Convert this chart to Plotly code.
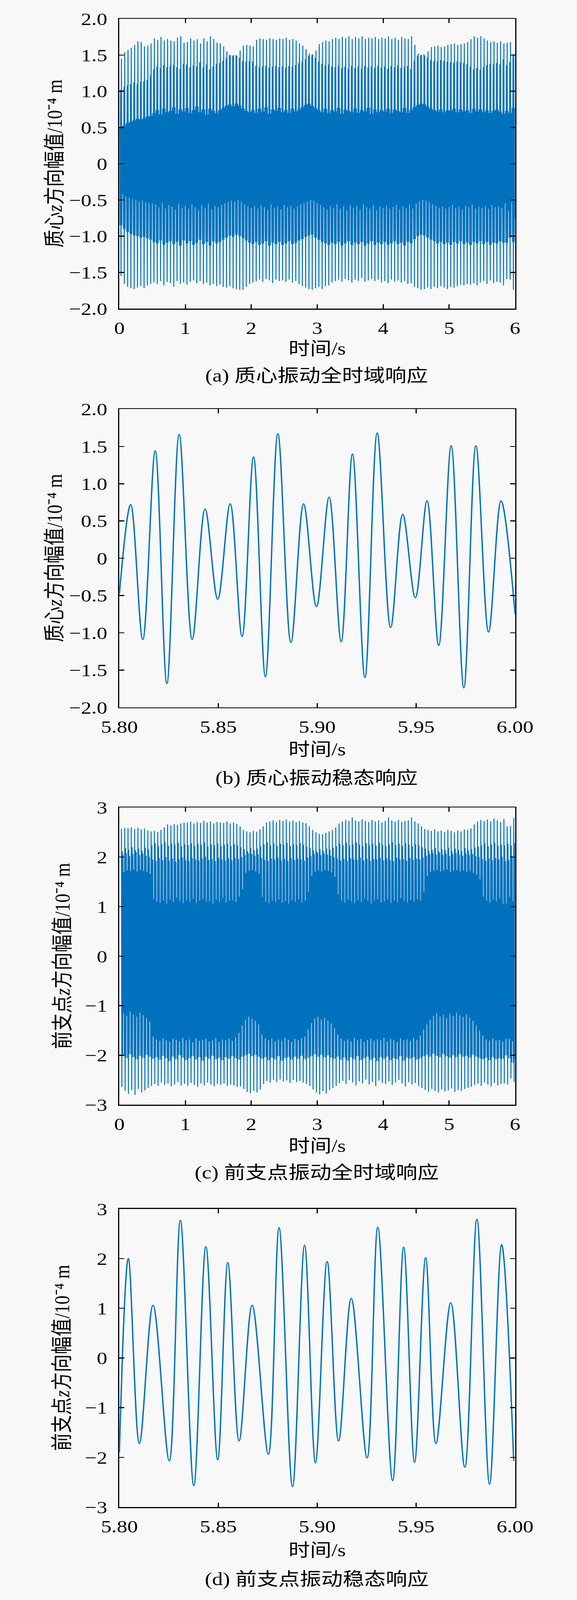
import numpy as np
import plotly.graph_objects as go

# ---------------- data ----------------
# Panel (a): per 0.05 s beat, the eight extrema of the 80 Hz response
a_hi = [1.45,1.54,1.57,1.60,1.64,1.69,1.68,1.62,1.63,1.66,
        1.73,1.71,1.75,1.70,1.72,1.70,1.69,1.74,1.76,1.67,
        1.68,1.73,1.70,1.72,1.66,1.73,1.69,1.76,1.72,1.67,
        1.66,1.62,1.55,1.50,1.50,1.49,1.56,1.63,1.64,1.63,
        1.62,1.71,1.73,1.72,1.71,1.73,1.72,1.71,1.73,1.72,
        1.74,1.71,1.72,1.70,1.66,1.63,1.58,1.52,1.51,1.56,
        1.65,1.68,1.70,1.69,1.72,1.74,1.72,1.75,1.73,1.76,
        1.72,1.75,1.73,1.76,1.72,1.74,1.73,1.75,1.72,1.74,
        1.73,1.76,1.72,1.74,1.71,1.75,1.73,1.72,1.76,1.64,
        1.52,1.50,1.49,1.55,1.61,1.62,1.63,1.61,1.62,1.64,
        1.65,1.66,1.64,1.65,1.66,1.68,1.72,1.76,1.74,1.76,
        1.73,1.70,1.68,1.69,1.67,1.69,1.66,1.67,1.68,1.51]
a_mid = [1.02,1.06,1.08,1.10,1.12,1.10,1.13,1.14,1.16,1.22,
         1.30,1.34,1.32,1.36,1.33,1.35,1.36,1.33,1.31,1.38,
         1.37,1.33,1.36,1.34,1.40,1.33,1.37,1.30,1.34,1.38,
         1.39,1.42,1.46,1.50,1.49,1.50,1.46,1.42,1.41,1.42,
         1.41,1.35,1.33,1.34,1.35,1.33,1.34,1.35,1.33,1.34,
         1.32,1.35,1.34,1.36,1.39,1.41,1.44,1.49,1.50,1.46,
         1.41,1.38,1.36,1.37,1.34,1.33,1.35,1.32,1.34,1.31,
         1.35,1.32,1.34,1.31,1.35,1.33,1.34,1.32,1.35,1.33,
         1.34,1.31,1.35,1.33,1.36,1.32,1.34,1.35,1.31,1.42,
         1.49,1.50,1.51,1.47,1.43,1.42,1.41,1.43,1.42,1.41,
         1.40,1.39,1.41,1.40,1.39,1.37,1.34,1.30,1.32,1.30,
         1.33,1.36,1.38,1.37,1.39,1.37,1.44,1.36,1.40,1.51]
a_lo = [-1.55,-1.66,-1.70,-1.72,-1.73,-1.71,-1.69,-1.72,-1.68,-1.66,
        -1.64,-1.66,-1.62,-1.68,-1.63,-1.65,-1.70,-1.62,-1.66,-1.64,
        -1.67,-1.63,-1.61,-1.65,-1.62,-1.66,-1.64,-1.68,-1.66,-1.69,
        -1.67,-1.70,-1.71,-1.69,-1.72,-1.73,-1.74,-1.74,-1.70,-1.66,
        -1.64,-1.62,-1.60,-1.63,-1.59,-1.61,-1.65,-1.60,-1.62,-1.61,
        -1.63,-1.60,-1.64,-1.62,-1.66,-1.69,-1.71,-1.73,-1.74,-1.72,
        -1.70,-1.73,-1.69,-1.68,-1.64,-1.62,-1.60,-1.63,-1.59,-1.61,
        -1.64,-1.60,-1.62,-1.58,-1.63,-1.61,-1.59,-1.62,-1.60,-1.64,
        -1.62,-1.65,-1.60,-1.63,-1.61,-1.64,-1.62,-1.66,-1.65,-1.70,
        -1.72,-1.74,-1.73,-1.71,-1.73,-1.70,-1.72,-1.69,-1.71,-1.73,
        -1.70,-1.71,-1.69,-1.67,-1.68,-1.66,-1.67,-1.65,-1.68,-1.64,
        -1.62,-1.66,-1.61,-1.65,-1.63,-1.64,-1.68,-1.59,-1.60,-1.74]
a_n = [-0.85,-0.90,-0.94,-0.97,-0.99,-1.00,-1.02,-1.01,-1.03,-1.05,
       -1.08,-1.10,-1.06,-1.12,-1.09,-1.07,-1.11,-1.08,-1.13,-1.06,
       -1.10,-1.07,-1.12,-1.09,-1.05,-1.11,-1.08,-1.13,-1.07,-1.10,
       -1.08,-1.05,-1.02,-0.99,-1.01,-0.98,-1.00,-1.03,-1.06,-1.09,
       -1.11,-1.08,-1.12,-1.10,-1.07,-1.13,-1.09,-1.11,-1.08,-1.12,
       -1.10,-1.07,-1.11,-1.09,-1.06,-1.04,-1.01,-0.99,-0.98,-1.02,
       -1.05,-1.08,-1.10,-1.12,-1.09,-1.11,-1.08,-1.13,-1.10,-1.07,
       -1.12,-1.09,-1.11,-1.08,-1.13,-1.10,-1.07,-1.12,-1.09,-1.11,
       -1.08,-1.12,-1.10,-1.07,-1.11,-1.09,-1.13,-1.08,-1.10,-1.04,
       -1.00,-0.98,-0.99,-1.02,-1.05,-1.07,-1.10,-1.08,-1.11,-1.09,
       -1.12,-1.08,-1.10,-1.07,-1.11,-1.09,-1.12,-1.08,-1.10,-1.07,
       -1.11,-1.08,-1.12,-1.09,-1.10,-1.07,-1.09,-1.09,-1.02,-1.08]
a_p = [0.50,0.53,0.56,0.58,0.60,0.62,0.61,0.63,0.65,0.66,
       0.70,0.74,0.68,0.76,0.71,0.73,0.78,0.69,0.75,0.72,
       0.77,0.70,0.74,0.79,0.71,0.75,0.68,0.76,0.73,0.70,
       0.74,0.77,0.80,0.82,0.79,0.83,0.80,0.76,0.73,0.71,
       0.74,0.70,0.76,0.72,0.78,0.69,0.75,0.73,0.77,0.71,
       0.74,0.70,0.76,0.72,0.75,0.78,0.81,0.83,0.80,0.77,
       0.74,0.71,0.76,0.70,0.74,0.72,0.77,0.69,0.75,0.73,
       0.71,0.76,0.70,0.74,0.72,0.77,0.69,0.75,0.71,0.74,
       0.72,0.76,0.70,0.75,0.73,0.71,0.77,0.70,0.74,0.78,
       0.81,0.83,0.82,0.79,0.76,0.74,0.72,0.75,0.71,0.74,
       0.73,0.76,0.71,0.75,0.72,0.74,0.70,0.76,0.72,0.75,
       0.71,0.74,0.70,0.73,0.75,0.72,0.69,0.73,0.70,0.77]
a_s = [-0.42,-0.45,-0.47,-0.49,-0.50,-0.52,-0.51,-0.53,-0.54,-0.55,
       -0.56,-0.60,-0.54,-0.62,-0.57,-0.59,-0.63,-0.55,-0.61,-0.58,
       -0.62,-0.56,-0.60,-0.64,-0.57,-0.61,-0.55,-0.63,-0.58,-0.60,
       -0.57,-0.55,-0.53,-0.51,-0.52,-0.50,-0.53,-0.56,-0.59,-0.61,
       -0.58,-0.62,-0.57,-0.60,-0.64,-0.56,-0.61,-0.59,-0.63,-0.57,
       -0.60,-0.58,-0.62,-0.59,-0.56,-0.54,-0.52,-0.50,-0.51,-0.54,
       -0.57,-0.60,-0.63,-0.58,-0.61,-0.56,-0.62,-0.59,-0.64,-0.57,
       -0.61,-0.58,-0.63,-0.56,-0.60,-0.62,-0.57,-0.64,-0.59,-0.61,
       -0.58,-0.62,-0.60,-0.57,-0.63,-0.59,-0.61,-0.56,-0.62,-0.55,
       -0.52,-0.50,-0.51,-0.53,-0.56,-0.58,-0.61,-0.59,-0.62,-0.60,
       -0.57,-0.61,-0.59,-0.63,-0.58,-0.60,-0.56,-0.62,-0.59,-0.61,
       -0.58,-0.62,-0.57,-0.60,-0.59,-0.61,-0.55,-0.65,-0.53,-0.75]
a_t0, a_dt = 0.0057, 0.00625   # time of first extremum, spacing of extrema (s)

# Panel (b): extrema of the steady-state window 5.80-6.00 s
b_time = [5.8000,5.8057,5.8118,5.8181,5.8240,5.8302,5.8368,5.8433,5.8497,5.8560,
          5.8620,5.8678,5.8738,5.8801,5.8867,5.8931,5.8996,5.9060,5.9121,5.9178,
          5.9241,5.9303,5.9371,5.9432,5.9496,5.9555,5.9614,5.9677,5.9741,5.9802,
          5.9866,5.9929,6.0000]
b_value = [-0.48,0.72,-1.09,1.44,-1.68,1.66,-1.09,0.66,-0.55,0.73,
           -1.05,1.36,-1.59,1.67,-1.13,0.73,-0.65,0.82,-1.12,1.40,
           -1.60,1.68,-0.93,0.59,-0.53,0.77,-1.17,1.51,-1.74,1.51,
           -0.99,0.77,-0.75]

# Panel (c): per 0.05 s beat, the eight extrema
c_hi = [2.57,2.59,2.58,2.60,2.57,2.59,2.56,2.58,2.54,2.52,
        2.53,2.51,2.55,2.60,2.66,2.64,2.67,2.65,2.68,2.70,
        2.70,2.72,2.68,2.71,2.69,2.73,2.70,2.72,2.68,2.71,
        2.70,2.69,2.72,2.68,2.70,2.67,2.62,2.55,2.52,2.50,
        2.53,2.51,2.56,2.62,2.70,2.72,2.74,2.71,2.75,2.73,
        2.76,2.72,2.74,2.71,2.73,2.70,2.68,2.62,2.55,2.50,
        2.47,2.46,2.49,2.52,2.55,2.60,2.68,2.72,2.75,2.73,
        2.80,2.74,2.72,2.76,2.73,2.71,2.75,2.72,2.74,2.70,
        2.73,2.80,2.74,2.72,2.75,2.71,2.73,2.74,2.80,2.72,
        2.68,2.62,2.57,2.55,2.53,2.56,2.52,2.54,2.51,2.55,
        2.53,2.50,2.54,2.52,2.56,2.55,2.58,2.66,2.72,2.75,
        2.73,2.76,2.72,2.78,2.74,2.71,2.77,2.62,2.63,2.79]
c_lo = [-2.64,-2.72,-2.78,-2.70,-2.80,-2.68,-2.75,-2.71,-2.66,-2.62,
        -2.58,-2.62,-2.55,-2.60,-2.57,-2.63,-2.59,-2.54,-2.61,-2.58,
        -2.62,-2.56,-2.60,-2.64,-2.57,-2.61,-2.55,-2.59,-2.63,-2.58,
        -2.60,-2.57,-2.62,-2.59,-2.61,-2.64,-2.63,-2.68,-2.74,-2.77,
        -2.72,-2.75,-2.69,-2.58,-2.52,-2.55,-2.50,-2.54,-2.49,-2.53,
        -2.51,-2.56,-2.50,-2.54,-2.52,-2.55,-2.58,-2.62,-2.69,-2.75,
        -2.79,-2.72,-2.77,-2.70,-2.66,-2.62,-2.56,-2.52,-2.58,-2.50,
        -2.55,-2.61,-2.53,-2.57,-2.49,-2.59,-2.54,-2.62,-2.51,-2.56,
        -2.58,-2.53,-2.60,-2.55,-2.50,-2.57,-2.63,-2.54,-2.59,-2.56,
        -2.62,-2.66,-2.70,-2.74,-2.68,-2.72,-2.75,-2.69,-2.73,-2.71,
        -2.67,-2.74,-2.70,-2.72,-2.68,-2.66,-2.64,-2.60,-2.57,-2.62,
        -2.55,-2.59,-2.63,-2.56,-2.61,-2.58,-2.57,-2.59,-2.47,-2.54]
c_m1 = [2.12,2.18,2.15,2.20,2.14,2.17,2.13,2.19,2.16,2.24,
        2.28,2.22,2.26,2.30,2.23,2.27,2.25,2.29,2.22,2.26,
        2.24,2.28,2.23,2.27,2.25,2.30,2.22,2.26,2.24,2.28,
        2.23,2.25,2.27,2.22,2.26,2.24,2.20,2.16,2.12,2.18,
        2.14,2.17,2.22,2.26,2.30,2.24,2.28,2.23,2.27,2.25,
        2.29,2.22,2.26,2.24,2.28,2.25,2.21,2.18,2.14,2.12,
        2.16,2.13,2.17,2.15,2.19,2.22,2.27,2.24,2.29,2.23,
        2.26,2.30,2.25,2.22,2.28,2.24,2.27,2.23,2.29,2.25,
        2.22,2.26,2.30,2.24,2.27,2.23,2.28,2.25,2.22,2.26,
        2.24,2.20,2.17,2.13,2.15,2.18,2.12,2.16,2.14,2.19,
        2.13,2.17,2.15,2.12,2.18,2.14,2.16,2.19,2.21,2.24,
        2.28,2.22,2.26,2.29,2.23,2.25,2.24,2.27,2.23,2.28]
c_m2 = [2.05,2.08,2.02,2.06,2.10,2.04,2.07,2.03,2.01,1.95,
        1.92,1.98,1.94,2.00,1.93,1.97,1.91,1.96,1.99,1.94,
        1.92,1.98,1.95,1.93,1.97,2.01,1.94,1.96,1.92,1.99,
        1.95,1.93,1.97,1.94,1.98,1.96,2.00,2.04,2.08,2.06,
        2.03,2.05,1.98,1.94,1.92,1.97,1.95,1.99,1.93,1.96,
        1.92,1.98,1.94,1.97,1.95,1.93,1.99,2.02,2.06,2.09,
        2.04,2.07,2.05,2.03,2.00,1.97,1.93,1.96,1.92,1.98,
        1.95,1.94,1.99,1.93,1.97,1.92,1.96,1.95,1.98,1.93,
        1.97,1.94,1.92,1.99,1.95,1.96,1.93,1.98,1.94,1.97,
        1.95,1.99,2.03,2.06,2.08,2.05,2.09,2.04,2.07,2.02,
        2.06,2.08,2.05,2.03,2.07,2.04,2.06,2.02,2.00,1.96,
        1.93,1.97,1.94,1.98,1.95,2.00,1.92,1.94,2.02,1.96]
c_n = [-2.02,-2.06,-1.98,-2.04,-2.08,-2.01,-2.05,-1.99,-2.03,-2.07,
       -2.04,-2.09,-2.01,-2.06,-2.12,-2.03,-2.08,-2.00,-2.05,-2.10,
       -2.06,-2.02,-2.09,-2.04,-2.11,-2.03,-2.07,-2.01,-2.08,-2.05,
       -2.10,-2.04,-2.07,-2.02,-2.06,-2.09,-2.03,-2.00,-1.97,-2.02,
       -1.99,-2.03,-2.07,-2.04,-2.10,-2.05,-2.08,-2.02,-2.11,-2.06,
       -2.04,-2.09,-2.03,-2.07,-2.01,-2.08,-2.05,-2.02,-1.98,-2.03,
       -1.99,-2.04,-2.00,-2.05,-2.07,-2.03,-2.09,-2.05,-2.11,-2.04,
       -2.08,-2.02,-2.10,-2.06,-2.03,-2.09,-2.05,-2.12,-2.04,-2.07,
       -2.03,-2.10,-2.06,-2.08,-2.02,-2.11,-2.05,-2.07,-2.04,-2.09,
       -2.06,-2.02,-1.99,-2.03,-1.97,-2.01,-2.04,-1.98,-2.02,-2.05,
       -2.00,-2.04,-1.98,-2.03,-2.01,-2.05,-1.99,-2.03,-2.06,-2.08,
       -2.05,-2.10,-2.04,-2.08,-2.06,-2.07,-2.00,-2.06,-2.15,-2.07]
c_s = [-1.15,-1.20,-1.12,-1.18,-1.22,-1.14,-1.19,-1.25,-1.32,-1.62,
       -1.68,-1.71,-1.66,-1.70,-1.73,-1.67,-1.69,-1.72,-1.65,-1.70,
       -1.68,-1.74,-1.66,-1.71,-1.69,-1.67,-1.72,-1.70,-1.65,-1.73,
       -1.68,-1.70,-1.66,-1.71,-1.64,-1.55,-1.40,-1.28,-1.22,-1.26,
       -1.30,-1.38,-1.58,-1.66,-1.70,-1.67,-1.72,-1.68,-1.71,-1.65,
       -1.69,-1.73,-1.67,-1.70,-1.66,-1.62,-1.48,-1.35,-1.26,-1.22,
       -1.28,-1.25,-1.30,-1.36,-1.45,-1.58,-1.66,-1.71,-1.68,-1.72,
       -1.65,-1.70,-1.67,-1.73,-1.69,-1.66,-1.71,-1.68,-1.70,-1.65,
       -1.72,-1.67,-1.69,-1.73,-1.66,-1.70,-1.68,-1.71,-1.65,-1.69,
       -1.60,-1.48,-1.38,-1.28,-1.20,-1.15,-1.22,-1.18,-1.25,-1.16,
       -1.21,-1.14,-1.19,-1.23,-1.17,-1.24,-1.30,-1.40,-1.50,-1.60,
       -1.68,-1.71,-1.66,-1.70,-1.69,-1.72,-1.67,-1.67,-1.72,-1.70]
c_sp = [1.70,1.73,1.72,1.75,1.71,1.74,1.72,1.70,1.66,1.15,
        1.10,1.08,1.12,1.06,1.14,1.09,1.18,1.11,1.07,1.13,
        1.10,1.16,1.08,1.12,1.15,1.09,1.11,1.06,1.14,1.10,
        1.17,1.08,1.12,1.13,1.09,1.20,1.35,1.68,1.72,1.74,
        1.71,1.66,1.20,1.10,1.07,1.12,1.09,1.14,1.08,1.11,
        1.06,1.13,1.10,1.15,1.08,1.12,1.30,1.62,1.70,1.73,
        1.71,1.74,1.72,1.69,1.60,1.25,1.12,1.08,1.14,1.10,
        1.07,1.13,1.09,1.16,1.11,1.06,1.12,1.15,1.08,1.10,
        1.14,1.07,1.12,1.09,1.17,1.11,1.08,1.13,1.10,1.15,
        1.12,1.30,1.62,1.70,1.72,1.74,1.71,1.73,1.75,1.70,
        1.72,1.74,1.71,1.73,1.70,1.72,1.68,1.64,1.55,1.20,
        1.12,1.08,1.14,1.10,1.16,1.06,1.06,1.20,1.11,1.10]
c_t0, c_dt = 0.0308, 0.00625

# Panel (d): extrema of the steady-state window 5.80-6.00 s
d_time = [5.8000,5.8045,5.8101,5.8170,5.8252,5.8308,5.8376,5.8437,5.8497,5.8548,
          5.8605,5.8671,5.8753,5.8807,5.8875,5.8936,5.8991,5.9050,5.9108,5.9172,
          5.9252,5.9306,5.9381,5.9437,5.9492,5.9548,5.9600,5.9675,5.9746,5.9807,
          5.9871,5.9932,5.9993]
d_value = [-1.90,2.00,-1.72,1.06,-2.07,2.77,-2.57,2.24,-2.05,1.92,
           -1.67,1.06,-1.94,2.62,-2.59,2.27,-2.11,1.94,-1.67,1.20,
           -2.01,2.63,-2.47,2.23,-2.10,2.02,-1.72,1.11,-2.20,2.79,
           -2.54,2.28,-2.07]

# tick labels
full_x_ticks = [0, 1, 2, 3, 4, 5, 6]
full_x_text = ["0", "1", "2", "3", "4", "5", "6"]
zoom_x_ticks = [5.80, 5.85, 5.90, 5.95, 6.00]
zoom_x_text = ["5.80", "5.85", "5.90", "5.95", "6.00"]
y2_ticks = [-2.0, -1.5, -1.0, -0.5, 0, 0.5, 1.0, 1.5, 2.0]
y2_text = ["\u22122.0", "\u22121.5", "\u22121.0", "\u22120.5", "0", "0.5", "1.0", "1.5", "2.0"]
y3_ticks = [-3, -2, -1, 0, 1, 2, 3]
y3_text = ["\u22123", "\u22122", "\u22121", "0", "1", "2", "3"]

captions = ["(a) 质心振动全时域响应", "(b) 质心振动稳态响应",
            "(c) 前支点振动全时域响应", "(d) 前支点振动稳态响应"]
y_titles = ["质心<i>z</i>方向幅值/10\u207b\u2074 m",
            "质心<i>z</i>方向幅值/10\u207b\u2074 m",
            "前支点<i>z</i>方向幅值/10\u207b\u2074 m",
            "前支点<i>z</i>方向幅值/10\u207b\u2074 m"]
x_title = "时间/s"

# ---------------- build series ----------------
a_y = np.column_stack([a_p, a_n, a_mid, a_lo, a_hi, a_n, a_p, a_s]).ravel()
a_x = a_t0 + a_dt * np.arange(a_y.size)
c_y = np.column_stack([c_hi, c_lo, c_m1, c_n, c_m2, c_s, c_sp, c_n]).ravel()
c_x = c_t0 + c_dt * np.arange(c_y.size)

# ---------------- layout geometry (pixels) ----------------
W, H = 1476, 4903
PX_L, PX_R = 276, 1357
panels = [(29, 928), (1240, 2165), (2476, 3398), (3721, 4646)]
xlabel_y = [1052, 2296, 3526, 4780]
caption_y = [1136, 2384, 3609, 4870]
ylabel_x = [99, 99, 120, 119]

LINE = "#0072BD"
SERIF = "'Liberation Serif', 'Noto Sans CJK SC', serif"

fig = go.Figure()
series = [(a_x, a_y, 2.5, "linear"), (b_time, b_value, 3.5, "spline"),
          (c_x, c_y, 2.5, "linear"), (d_time, d_value, 3.5, "spline")]
for i, (xs, ys, w, shape) in enumerate(series):
    sfx = "" if i == 0 else str(i + 1)
    line = dict(color=LINE, width=w, shape=shape)
    if shape == "spline":
        line["smoothing"] = 1.0
    fig.add_trace(go.Scatter(x=xs, y=ys, mode="lines", line=line,
                             xaxis="x" + sfx, yaxis="y" + sfx,
                             showlegend=False, hoverinfo="skip"))

common = dict(showline=True, linecolor="black", linewidth=3, mirror="ticks",
              ticks="inside", ticklen=13, tickwidth=3, tickcolor="black",
              showgrid=False, zeroline=False,
              tickfont=dict(family=SERIF, size=54, color="black"))

layout = dict(width=W, height=H, margin=dict(l=0, r=0, t=0, b=0),
              paper_bgcolor="#f8f8f8", plot_bgcolor="#f8f8f8", showlegend=False)
annotations = []
for i, (top, bot) in enumerate(panels):
    sfx = "" if i == 0 else str(i + 1)
    full = i in (0, 2)
    layout["xaxis" + sfx] = dict(
        common, domain=[PX_L / W, PX_R / W], anchor="y" + sfx,
        range=[0, 6] if full else [5.8, 6.0],
        tickmode="array",
        tickvals=full_x_ticks if full else zoom_x_ticks,
        ticktext=full_x_text if full else zoom_x_text,
        ticklabelstandoff=10)
    layout["yaxis" + sfx] = dict(
        common, domain=[1 - bot / H, 1 - top / H], anchor="x" + sfx,
        range=[-2, 2] if i < 2 else [-3, 3],
        tickmode="array",
        tickvals=y2_ticks if i < 2 else y3_ticks,
        ticktext=y2_text if i < 2 else y3_text,
        ticklabelstandoff=17)
    annotations.append(dict(text=x_title, xref="paper", yref="paper",
                            x=817 / W, y=1 - xlabel_y[i] / H,
                            xanchor="center", yanchor="middle", showarrow=False,
                            font=dict(family=SERIF, size=55, color="black")))
    annotations.append(dict(text=captions[i], xref="paper", yref="paper",
                            x=815 / W, y=1 - caption_y[i] / H,
                            xanchor="center", yanchor="middle", showarrow=False,
                            font=dict(family=SERIF, size=55, color="black")))
    annotations.append(dict(text=y_titles[i], xref="paper", yref="paper",
                            x=ylabel_x[i] / W, y=1 - (top + bot) / 2 / H,
                            xanchor="center", yanchor="middle", showarrow=False,
                            textangle=-90,
                            font=dict(family=SERIF, size=55, color="black")))
layout["annotations"] = annotations
fig.update_layout(**layout)

# The photographed viewport is shorter than the 4903 px page; fit the whole
# figure into the visible height so that no panel is cut off.
fit_script = (
    "document.documentElement.style.overflow='hidden';"
    "document.body.style.margin='0';document.body.style.overflow='hidden';"
    "var gd=document.getElementById('{plot_id}');"
    "var vh=Math.min(window.innerHeight||4096,4096);"
    "if(vh<" + str(H) + "){gd.style.transformOrigin='0 0';"
    "gd.style.transform='scale(1,'+(vh/" + str(H) + ")+')';}"
)
fig.write_html("out.html", config={"displayModeBar": False}, post_script=fit_script)
